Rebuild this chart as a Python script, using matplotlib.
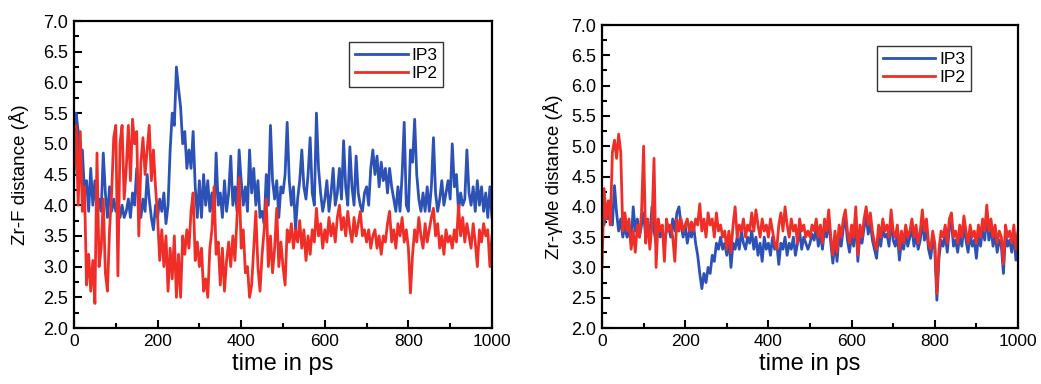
import numpy as np
import matplotlib
matplotlib.use('Agg')
from matplotlib import pyplot as plt
from matplotlib.ticker import MultipleLocator, FormatStrFormatter

# time axis, one sample every 5 ps
time_ps = np.arange(0, 1001, 5)

# left panel: Zr-F distance
zrf_ip3 = [
    4.5, 5.5, 5.2, 4.4, 4.9, 4.2, 4.4, 3.9, 4.6, 4.0, 4.4, 3.9, 4.1, 3.9, 4.85, 4.2, 3.8, 4.3, 3.9, 4.1,
    3.9, 4.1, 3.8, 4.0, 3.8, 3.9, 4.1, 3.8, 4.2, 4.0, 4.6, 4.0, 3.8, 4.1, 3.9, 4.5, 4.1, 3.8, 3.6, 4.0,
    3.8, 4.1, 3.9, 4.2, 3.7, 4.0, 4.9, 5.5, 5.3, 6.25, 5.9, 5.6, 5.0, 5.2, 4.6, 4.9, 4.6, 5.2, 4.3, 3.8,
    4.4, 3.8, 4.5, 4.0, 4.4, 3.9, 4.2, 3.7, 4.85, 4.0, 4.2, 3.8, 4.4, 3.9, 4.2, 4.8, 4.0, 4.3, 3.9, 4.9,
    4.4, 4.0, 4.3, 3.9, 4.9, 4.2, 4.6, 4.0, 4.4, 3.8, 3.9, 3.7, 4.5, 4.0, 5.3, 4.4, 4.1, 4.4, 3.8, 4.3,
    4.2, 4.5, 5.35, 4.4, 4.0, 4.3, 3.6, 4.1, 4.4, 4.9, 4.3, 4.1, 4.5, 5.1, 4.2, 4.0, 5.5, 4.6, 4.2, 3.9,
    4.1, 4.4, 3.9, 4.2, 4.6, 4.0, 4.2, 4.6, 4.1, 5.05, 4.3, 4.0, 4.95, 4.3, 4.0, 4.8, 4.2, 4.0, 3.9, 4.2,
    4.3, 4.0, 4.6, 4.9, 4.5, 4.8, 4.3, 4.7, 4.4, 4.6, 4.2, 4.6, 4.3, 4.1, 3.9, 4.3, 3.9, 4.5, 5.35, 4.0,
    3.9, 4.9, 4.7, 5.4, 4.5, 4.1, 3.9, 4.2, 3.9, 4.3, 3.9, 4.3, 5.1, 4.2, 3.9, 4.1, 4.4, 4.0, 4.2, 4.4,
    4.1, 5.0, 4.3, 4.5, 3.9, 4.2, 4.0, 4.1, 4.9, 4.2, 4.0, 4.3, 3.9, 4.4, 4.0, 4.3, 3.9, 4.2, 3.8, 4.3,
    3.8,
]
zrf_ip2 = [
    4.6, 5.3, 4.0, 5.2, 3.9, 4.3, 2.7, 3.2, 2.6, 3.1, 2.4, 4.85, 3.0, 3.3, 4.1, 2.9, 2.6, 3.6, 4.2, 5.1,
    5.3, 2.85, 5.0, 5.3, 4.1, 4.6, 5.3, 4.4, 5.4, 5.0, 5.2, 3.5, 4.7, 5.1, 4.5, 4.9, 5.3, 4.4, 4.9, 4.3,
    3.8, 3.1, 3.6, 3.0, 3.5, 2.6, 3.3, 2.8, 3.5, 2.5, 3.2, 2.5, 3.5, 3.2, 3.6, 3.3, 3.9, 4.2, 3.1, 3.4,
    3.0, 3.3, 2.6, 2.8, 2.5, 3.3, 3.6, 4.3, 3.2, 3.4, 2.7, 3.3, 2.6, 3.1, 3.4, 3.0, 3.5, 3.1, 3.8, 4.45,
    3.3, 3.6, 2.9, 3.0, 2.5, 2.7, 3.3, 3.9, 3.0, 2.6, 3.2, 3.6, 4.1, 3.0, 3.5, 2.9, 3.3, 3.95, 3.0, 3.4,
    3.0, 2.7, 3.6, 3.4, 3.7, 3.3, 3.6, 3.4, 3.75, 3.3, 3.6, 3.1, 3.5, 3.2, 3.6, 3.4, 3.95, 3.5, 3.7, 3.3,
    3.6, 3.4, 3.8, 3.5, 3.7, 3.4, 3.8, 4.0, 3.6, 3.8, 3.5, 3.9, 3.6, 3.4, 3.8, 3.5, 3.7, 3.9, 3.5, 3.6,
    3.4, 3.6, 3.3, 3.5, 3.6, 3.3, 3.5, 3.2, 3.5, 3.4, 3.7, 3.9, 3.4, 3.6, 3.3, 3.7, 3.5, 3.8, 3.4, 3.6,
    3.3, 2.57, 3.2, 3.6, 3.4, 3.8, 3.5, 3.3, 3.7, 3.4, 3.6, 3.8, 3.95, 3.5, 3.7, 3.3, 3.5, 3.2, 3.6, 3.4,
    3.5, 3.3, 3.6, 3.4, 4.0, 3.5, 3.8, 3.4, 3.7, 3.5, 3.3, 3.7, 3.4, 3.0, 3.6, 3.4, 3.7, 3.5, 3.6, 3.0,
    3.5,
]

# right panel: Zr-gammaMe distance
zrme_ip3 = [
    4.2, 3.7, 4.0, 3.8, 4.1, 3.7, 4.35, 3.9, 3.6, 3.8, 3.5, 3.7, 3.5, 3.6, 3.4, 4.0, 3.6, 3.8, 3.5, 3.7,
    3.9, 3.5, 3.7, 3.5, 4.0, 3.6, 3.4, 3.7, 3.5, 3.6, 3.4, 3.6, 3.7, 3.5, 3.8, 3.6, 3.9, 4.0, 3.7, 3.5,
    3.7, 3.4, 3.6, 3.5, 3.7, 3.4, 3.2, 2.9, 2.65, 2.9, 2.75, 3.0, 2.9, 3.2, 3.1, 3.4, 3.3, 3.5, 3.3, 3.4,
    3.2, 3.5, 3.0, 3.4, 3.3, 3.5, 3.3, 3.6, 3.4, 3.3, 3.5, 3.4, 3.6, 3.3, 3.5, 3.2, 3.4, 3.1, 3.5, 3.3,
    3.4, 3.2, 3.5, 3.3, 3.4, 3.05, 3.4, 3.3, 3.5, 3.2, 3.4, 3.3, 3.5, 3.2, 3.4, 3.6, 3.3, 3.5, 3.4, 3.3,
    3.4, 3.55, 3.45, 3.65, 3.35, 3.55, 3.3, 3.65, 3.5, 3.8, 3.4, 3.07, 3.45, 3.1, 3.55, 3.35, 3.65, 3.8, 3.45, 3.25,
    3.55, 3.35, 3.85, 3.1, 3.55, 3.4, 3.65, 3.85, 3.55, 3.75, 3.45, 3.3, 3.15, 3.55, 3.35, 3.65, 3.5, 3.55, 3.35, 3.8,
    3.45, 3.35, 3.55, 3.12, 3.45, 3.3, 3.55, 3.35, 3.5, 3.65, 3.35, 3.55, 3.3, 3.45, 3.8, 3.45, 3.65, 3.3, 3.15, 3.45,
    3.3, 2.46, 3.15, 3.45, 3.35, 3.55, 3.25, 3.65, 3.75, 3.35, 3.45, 3.25, 3.55, 3.35, 3.7, 3.45, 3.25, 3.55, 3.35, 3.45,
    3.15, 3.55, 3.35, 3.65, 3.45, 3.9, 3.45, 3.65, 3.35, 3.55, 3.25, 3.45, 3.35, 2.9, 3.55, 3.35, 3.45, 3.25, 3.55, 3.12,
    3.45,
]
zrme_ip2 = [
    3.0, 4.3, 3.8, 4.1, 3.7, 4.9, 5.1, 4.8, 5.2, 4.9, 3.6, 3.9, 3.6, 3.8, 3.3, 3.6, 3.25, 3.7, 3.5, 3.9,
    5.0, 3.4, 3.8, 3.3, 3.7, 4.8, 3.0, 3.8, 3.6, 3.7, 3.1, 3.8, 3.6, 3.7, 3.5, 3.1, 3.8, 3.6, 3.8, 3.6,
    3.7, 3.8, 3.6, 3.75, 3.6, 3.8, 3.7, 4.05, 3.6, 3.8, 3.5, 3.9, 3.7, 3.8, 3.5, 3.9, 3.6, 3.7, 3.5, 3.6,
    3.3, 3.6, 3.25, 3.7, 4.0, 3.5, 3.7, 3.6, 3.8, 3.5, 3.7, 3.6, 3.9, 3.6, 3.95, 3.7, 3.5, 3.8, 3.6, 3.7,
    3.5, 3.8, 3.6, 3.4, 3.3, 3.7, 3.9, 3.6, 4.0, 3.7, 3.5, 3.8, 3.6, 3.7, 3.4, 3.8, 3.6, 3.7, 3.5, 3.6,
    3.5, 3.7, 3.6, 3.8, 3.5, 3.7, 3.4, 3.8, 3.6, 3.95, 3.5, 3.2, 3.6, 3.25, 3.7, 3.5, 3.8, 3.95, 3.6, 3.4,
    3.7, 3.5, 4.0, 3.2, 3.7, 3.5, 3.8, 4.0, 3.7, 3.9, 3.6, 3.4, 3.3, 3.7, 3.5, 3.8, 3.6, 3.7, 3.5, 3.95,
    3.6, 3.5, 3.7, 3.3, 3.6, 3.4, 3.7, 3.5, 3.6, 3.8, 3.5, 3.7, 3.4, 3.6, 3.95, 3.6, 3.8, 3.4, 3.3, 3.6,
    3.4, 2.57, 3.3, 3.6, 3.5, 3.7, 3.4, 3.8, 3.9, 3.5, 3.6, 3.4, 3.7, 3.5, 3.85, 3.6, 3.4, 3.7, 3.5, 3.6,
    3.4, 3.7, 3.5, 3.8, 3.6, 4.03, 3.6, 3.8, 3.5, 3.7, 3.4, 3.6, 3.5, 3.05, 3.7, 3.5, 3.6, 3.4, 3.7, 3.3,
    3.6,
]

blue = '#2d52b5'
red = '#ef2e28'

plt.rcParams['font.family'] = ['Liberation Sans', 'DejaVu Sans']

fig = plt.figure(figsize=(10.41, 3.84), dpi=100)
ax1 = fig.add_axes([0.0711, 0.1458, 0.4015, 0.7995])
ax2 = fig.add_axes([0.5783, 0.1458, 0.3996, 0.789])

panels = [
    (ax1, zrf_ip3, zrf_ip2, 'Zr-F distance (Å)', (0.883, 0.932), 10),
    (ax2, zrme_ip3, zrme_ip2, 'Zr-γMe distance (Å)', (0.887, 0.931), 6),
]

for ax, s3, s2, ylab, anchor, ypad in panels:
    ax.plot(time_ps, s3, color=blue, lw=2.0, label='IP3')
    ax.plot(time_ps, s2, color=red, lw=2.0, label='IP2')
    ax.set_xlim(0, 1000)
    ax.set_ylim(2.0, 7.0)
    ax.xaxis.set_major_locator(MultipleLocator(200))
    ax.xaxis.set_minor_locator(MultipleLocator(100))
    ax.yaxis.set_major_locator(MultipleLocator(0.5))
    ax.yaxis.set_minor_locator(MultipleLocator(0.25))
    ax.yaxis.set_major_formatter(FormatStrFormatter('%.1f'))
    ax.tick_params(which='both', direction='in', top=False, right=False, width=1.5)
    ax.tick_params(axis='x', labelsize=12.5)
    ax.tick_params(axis='y', labelsize=13)
    ax.tick_params(which='major', length=6, pad=4)
    ax.tick_params(which='minor', length=3.5)
    for sp in ax.spines.values():
        sp.set_linewidth(1.6)
    ax.set_xlabel('time in ps', fontsize=17, labelpad=3)
    ax.set_ylabel(ylab, fontsize=13.5, labelpad=ypad)
    leg = ax.legend(loc='upper right', bbox_to_anchor=anchor, borderaxespad=0,
                    fancybox=False, edgecolor='#333333', fontsize=12.5,
                    handlelength=3.0, handletextpad=0.2, borderpad=0.35,
                    labelspacing=0.15, framealpha=1)
    leg.get_frame().set_linewidth(1.0)

fig.savefig('out.png', dpi=100)
